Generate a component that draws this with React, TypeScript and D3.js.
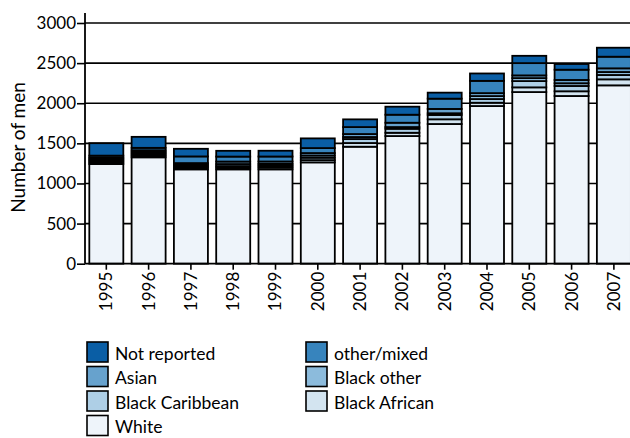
import { useEffect, useRef } from 'react';
import * as d3 from 'd3';

const years = ['1995', '1996', '1997', '1998', '1999', '2000', '2001', '2002', '2003', '2004', '2005', '2006', '2007'];

// stacked bottom to top
const white = [1242, 1326, 1176, 1176, 1176, 1263, 1458, 1591, 1741, 1965, 2139, 2090, 2223];
const blackAfrican = [20, 22, 20, 22, 24, 28, 46, 41, 59, 41, 59, 59, 75];
const blackCaribbean = [20, 22, 20, 19, 22, 30, 50, 50, 54, 46, 78, 66, 54];
const blackOther = [20, 22, 18, 25, 22, 28, 25, 21, 21, 37, 37, 34, 37];
const asian = [20, 22, 20, 31, 30, 30, 37, 54, 54, 37, 34, 41, 46];
const otherMixed = [25, 30, 83, 62, 62, 62, 87, 100, 128, 153, 153, 128, 145];
const notReported = [155, 137, 95, 72, 72, 121, 96, 100, 75, 92, 91, 71, 112];

const seriesNames = ['White', 'Black African', 'Black Caribbean', 'Black other', 'Asian', 'other/mixed', 'Not reported'];
const seriesValues = [white, blackAfrican, blackCaribbean, blackOther, asian, otherMixed, notReported];
const seriesColors = ['#eef4fa', '#d3e4f0', '#aecfe6', '#8cbbdc', '#67a2cd', '#3784bd', '#0a5ea5'];

// legend reads row by row, two columns
const legendOrder = ['Not reported', 'other/mixed', 'Asian', 'Black other', 'Black Caribbean', 'Black African', 'White'];

const yTicks = [0, 500, 1000, 1500, 2000, 2500, 3000];

const FONT = 'Lato, "Open Sans", sans-serif';

type Row = { year: string; [k: string]: number | string };

const App = (): JSX.Element => {
  const svgRef = useRef<SVGSVGElement>(null);

  useEffect(() => {
    const svg = d3.select(svgRef.current);
    svg.selectAll('*').remove();

    const left = 85;
    const y0 = 263.7;

    const y = d3.scaleLinear().domain([0, 3000]).range([y0, 23]);
    const x = d3.scaleBand<string>()
      .domain(years)
      .range([left, 635.2])
      .paddingInner(0.196)
      .paddingOuter(0.102);

    const rows: Row[] = years.map((yr, i) => {
      const r: Row = { year: yr };
      seriesNames.forEach((s, j) => { r[s] = seriesValues[j][i]; });
      return r;
    });
    const stacked = d3.stack<Row>().keys(seriesNames)(rows);

    // grid
    svg.append('g')
      .selectAll('line')
      .data(yTicks.filter(t => t > 0))
      .enter()
      .append('line')
      .attr('x1', left)
      .attr('x2', 630)
      .attr('y1', d => y(d))
      .attr('y2', d => y(d))
      .attr('stroke', '#000')
      .attr('stroke-width', 1.6);

    // bars
    svg.append('g')
      .selectAll('g')
      .data(stacked)
      .enter()
      .append('g')
      .attr('fill', (_d, i) => seriesColors[i])
      .selectAll('rect')
      .data(d => d)
      .enter()
      .append('rect')
      .attr('x', d => x(d.data.year as string) as number)
      .attr('width', x.bandwidth())
      .attr('y', d => y(d[1]))
      .attr('height', d => y(d[0]) - y(d[1]))
      .attr('stroke', '#000')
      .attr('stroke-width', 1.8);

    // y axis
    const yAxis = svg.append('g')
      .attr('transform', `translate(${left},0)`)
      .call(d3.axisLeft(y).tickValues(yTicks).tickSize(8).tickPadding(1).tickFormat(d3.format('d')));
    yAxis.select('.domain').remove();
    yAxis.selectAll('line').attr('stroke', '#000').attr('stroke-width', 1.6);
    yAxis.selectAll('text').attr('font-family', FONT).attr('font-size', 17).attr('fill', '#000');
    svg.append('line')
      .attr('x1', left).attr('x2', left)
      .attr('y1', 13).attr('y2', y0)
      .attr('stroke', '#000').attr('stroke-width', 1.8);

    // x axis
    const xAxis = svg.append('g')
      .attr('transform', `translate(0,${y0})`)
      .call(d3.axisBottom(x).tickSize(6).tickPadding(4));
    xAxis.select('.domain').remove();
    xAxis.selectAll('line').attr('stroke', '#000').attr('stroke-width', 1.6);
    xAxis.selectAll('text')
      .attr('font-family', FONT)
      .attr('font-size', 17)
      .attr('fill', '#000')
      .attr('transform', 'rotate(-90)')
      .attr('text-anchor', 'end')
      .attr('x', -8)
      .attr('y', 0)
      .attr('dy', '0.35em');
    svg.append('line')
      .attr('x1', left).attr('x2', 630)
      .attr('y1', y0).attr('y2', y0)
      .attr('stroke', '#000').attr('stroke-width', 1.8);

    svg.append('text')
      .attr('transform', 'translate(17,147.5) rotate(-90)')
      .attr('text-anchor', 'middle')
      .attr('dominant-baseline', 'central')
      .attr('font-family', FONT)
      .attr('font-size', 19)
      .text('Number of men');

    // legend
    const legend = svg.append('g')
      .selectAll('g')
      .data(legendOrder)
      .enter()
      .append('g')
      .attr('transform', (_d, i) => `translate(${i % 2 === 0 ? 87 : 306},${342 + Math.floor(i / 2) * 24.5})`);
    legend.append('rect')
      .attr('width', 21)
      .attr('height', 20)
      .attr('fill', d => seriesColors[seriesNames.indexOf(d)])
      .attr('stroke', '#000')
      .attr('stroke-width', 1.6);
    legend.append('text')
      .attr('x', 28)
      .attr('y', 11)
      .attr('dominant-baseline', 'central')
      .attr('font-family', FONT)
      .attr('font-size', 17.5)
      .text(d => d);

    return () => {
      svg.selectAll('*').remove();
    };
  }, []);

  return (
    <svg
      ref={svgRef}
      width={630}
      height={438}
      style={{ position: 'absolute', left: 0, top: 0, background: '#fff' }}
    />
  );
};

export default App;
